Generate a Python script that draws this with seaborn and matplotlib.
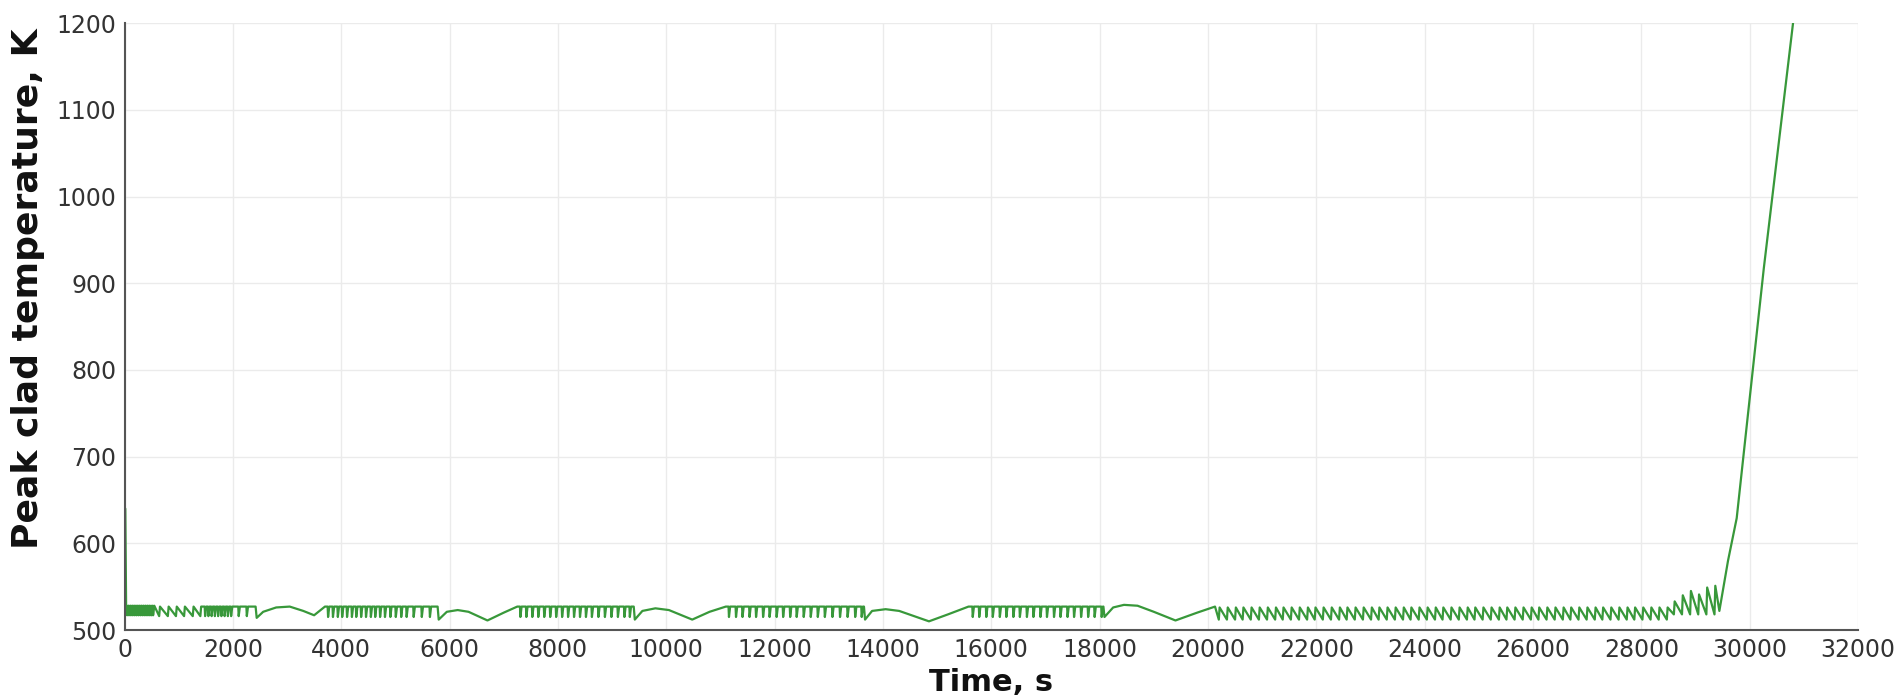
import numpy as np
import pandas as pd
import matplotlib
matplotlib.use("Agg")
import matplotlib.pyplot as plt
import seaborn as sns

# Peak clad temperature history

# start-up spike
start_time = [15, 30]
start_temp = [640, 526]

# sawtooth regions: time of each tooth (s)
teeth_a = [40, 75, 110, 145, 180, 215, 250, 285, 320, 355, 390, 425, 460, 490, 520]
teeth_b = [640, 800, 950, 1100, 1260, 1400]
teeth_c = [1480, 1540, 1600, 1660, 1720, 1780, 1840, 1900, 1960, 2100, 2250]
teeth_e = [3750, 3840, 3930, 4010, 4100, 4190, 4270, 4360, 4450, 4540, 4620,
           4710, 4800, 4900, 5000, 5100, 5200, 5330, 5480, 5630]
teeth_f = [7300, 7410, 7520, 7630, 7740, 7850, 7960, 8070, 8180, 8290, 8400,
           8510, 8620, 8740, 8860, 8980, 9100, 9220, 9320]
teeth_g = [11150, 11280, 11400, 11530, 11650, 11780, 11900, 12030, 12150, 12280,
           12400, 12530, 12660, 12790, 12920, 13060, 13200, 13340, 13480, 13600]
teeth_h = [15650, 15770, 15900, 16020, 16150, 16270, 16400, 16520, 16650, 16770,
           16900, 17020, 17150, 17270, 17400, 17520, 17650, 17780, 17900, 18030]
teeth_i = [20200, 20350, 20500, 20640, 20790, 20940, 21090, 21240, 21380, 21530,
           21680, 21830, 21970, 22120, 22270, 22420, 22560, 22710, 22860, 23010,
           23150, 23300, 23450, 23600, 23740, 23890, 24040, 24190, 24330, 24480,
           24630, 24780, 24920, 25070, 25220, 25370, 25510, 25660, 25810, 25960,
           26100, 26250, 26400, 26550, 26690, 26840, 26990, 27140, 27280, 27430,
           27580, 27730, 27870, 28020, 28170, 28320, 28470]
# bigger teeth just before heat-up
teeth_j = [28600, 28750, 28900, 29050, 29200, 29350]
teeth_j_peak = [533, 540, 545, 541, 549, 551]

# smooth stretches between sawtooth regions
smooth_1_time = [2420, 2440, 2560, 2800, 3050, 3300, 3500, 3700]
smooth_1_temp = [527, 514, 521, 526, 527, 522, 517, 527]
smooth_2_time = [5780, 5800, 5950, 6150, 6350, 6700, 7000, 7250]
smooth_2_temp = [527, 512, 521, 523, 521, 511, 520, 527]
smooth_3_time = [9400, 9420, 9560, 9800, 10050, 10480, 10800, 11100]
smooth_3_temp = [527, 512, 522, 525, 523, 512, 521, 527]
smooth_4_time = [13650, 13670, 13800, 14050, 14300, 14850, 15200, 15580]
smooth_4_temp = [527, 512, 522, 524, 522, 510, 518, 527]
smooth_5_time = [18070, 18090, 18250, 18450, 18700, 19000, 19400, 19800, 20130]
smooth_5_temp = [527, 515, 526, 529, 528, 521, 511, 520, 527]

# final heat-up
rise_time = [29440, 29600, 29760, 30260, 30800]
rise_temp = [522, 580, 629, 917, 1200]

time, temp = list(start_time), list(start_temp)


def add_spikes(times, hi, lo):
    # plateau with short downward spikes
    for t in times:
        time.extend([t, t + 8, t + 30])
        temp.extend([hi, lo, hi])


def add_zigzag(times, hi, lo):
    # sharp rise, then slow decline to the next tooth
    his = hi if isinstance(hi, list) else [hi] * len(times)
    for t, h in zip(times, his):
        time.extend([t, t + 15])
        temp.extend([lo, h])


def add_smooth(ts, vs):
    time.extend(ts)
    temp.extend(vs)


add_spikes(teeth_a, 528, 517)
add_zigzag(teeth_b, 527, 516)
add_spikes(teeth_c, 527, 516)
add_smooth(smooth_1_time, smooth_1_temp)
add_spikes(teeth_e, 527, 515)
add_smooth(smooth_2_time, smooth_2_temp)
add_spikes(teeth_f, 527, 515)
add_smooth(smooth_3_time, smooth_3_temp)
add_spikes(teeth_g, 527, 515)
add_smooth(smooth_4_time, smooth_4_temp)
add_spikes(teeth_h, 527, 515)
add_smooth(smooth_5_time, smooth_5_temp)
add_zigzag(teeth_i, 526, 512)
add_zigzag(teeth_j, teeth_j_peak, 518)
add_smooth(rise_time, rise_temp)

df = pd.DataFrame({'time': time, 'temp': temp})

sns.set_style("white")
plt.rcParams['font.family'] = ['DejaVu Sans']

fig = plt.figure(figsize=(18.95, 7.0), dpi=100)
ax = fig.add_axes([0.0657, 0.1, 0.9148, 0.867])

sns.lineplot(data=df, x='time', y='temp', color='#38983a', linewidth=1.6,
             estimator=None, sort=False, ax=ax)

ax.set_xlim(0, 32000)
ax.set_ylim(500, 1200)
ax.set_xticks(np.arange(0, 32001, 2000))
ax.set_yticks(np.arange(500, 1201, 100))
ax.grid(True, color='#ebebeb', linewidth=1.0)
ax.set_axisbelow(True)

for side in ['top', 'right']:
    ax.spines[side].set_visible(False)
for side in ['left', 'bottom']:
    ax.spines[side].set_color('#555555')
    ax.spines[side].set_linewidth(1.5)

ax.tick_params(axis='both', direction='inout', length=8, width=1.2,
               color='#555555', labelsize=17, labelcolor='#333333', pad=2)

ax.set_xlabel('Time, s', fontsize=22, fontweight='bold', color='#111111', labelpad=4)
ax.set_ylabel('Peak clad temperature, K', fontsize=26, fontweight='bold',
              color='#111111')
ax.yaxis.set_label_coords(-0.046, 0.562)

fig.savefig('out.png', dpi=100)
